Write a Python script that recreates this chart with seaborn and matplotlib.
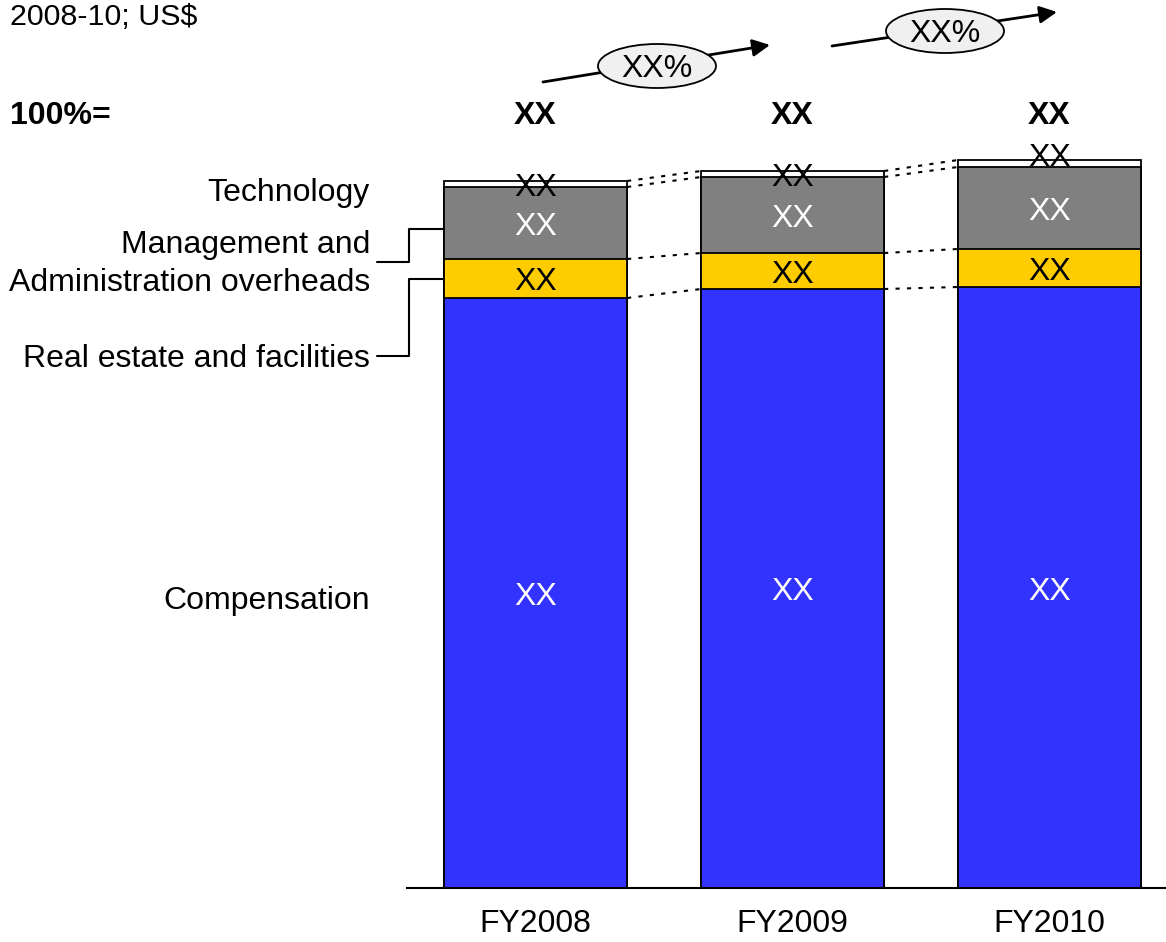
import numpy as np
import matplotlib.pyplot as plt
import seaborn as sns
from matplotlib.patches import Ellipse

# Data (in pixel-height units)
years = ["FY2008", "FY2009", "FY2010"]
compensation = [590, 599, 601]
real_estate = [39, 36, 38]
management = [72, 76, 82]
technology = [6, 6, 7]
total_labels = ["XX", "XX", "XX"]
growth_labels = ["XX%", "XX%"]
segment_names = ["Technology", "Management and\nAdministration overheads",
                 "Real estate and facilities", "Compensation"]

sns.set_style("white")
plt.rcParams["font.family"] = ["Liberation Sans", "DejaVu Sans"]
plt.rcParams["text.color"] = "black"
plt.rcParams["xtick.color"] = "black"
plt.rcParams["xtick.labelcolor"] = "black"

fig = plt.figure(figsize=(11.66, 9.42), dpi=100)
ax = fig.add_axes([407 / 1166, 54 / 942, 759 / 1166, 888 / 942])

# cumulative tops
c1 = np.array(compensation)
c2 = c1 + np.array(real_estate)
c3 = c2 + np.array(management)
c4 = c3 + np.array(technology)

bw = 183 / 257
layers = [(c4, "white"), (c3, "#808080"), (c2, "#FFCC00"), (c1, "#3333FF")]
for vals, col in layers:
    sns.barplot(x=years, y=vals, color=col, saturation=1, width=bw,
                edgecolor="black", linewidth=1.3, ax=ax)

ax.set_xlim(-0.5, 2.453)
ax.set_ylim(0, 888)
ax.set_ylabel("")
ax.set_yticks([])
sns.despine(ax=ax, left=True)
ax.spines["bottom"].set_linewidth(1.5)
ax.spines["bottom"].set_color("black")
ax.tick_params(axis="x", length=0, pad=15, labelsize=23, colors="black")

fs = 23
dy = -4  # nudge labels down a little
# labels inside the bars
tech_offset = [0, 0, 10]
for i in range(3):
    ax.text(i, c1[i] / 2 + dy, "XX", ha="center", va="center", color="white", fontsize=fs)
    ax.text(i, (c1[i] + c2[i]) / 2 + dy, "XX", ha="center", va="center", color="black", fontsize=fs)
    ax.text(i, (c2[i] + c3[i]) / 2 + dy, "XX", ha="center", va="center", color="white", fontsize=fs)
    ax.text(i, (c3[i] + c4[i]) / 2 + tech_offset[i] + dy, "XX", ha="center", va="center",
            color="black", fontsize=fs)
    ax.text(i, 772, total_labels[i], ha="center", va="center", fontsize=fs,
            fontweight="bold", clip_on=False)

# dotted connectors between bars
for i in range(2):
    for tops in (c1, c2, c3, c4):
        ax.plot([i + bw / 2, i + 1 - bw / 2], [tops[i], tops[i + 1]],
                color="black", linestyle=(0, (2, 3.5)), linewidth=1.5)

# overlay in pixel coordinates for annotations
ov = fig.add_axes([0, 0, 1, 1], zorder=3)
ov.set_xlim(0, 1166)
ov.set_ylim(942, 0)
ov.axis("off")
ov.patch.set_alpha(0)

ov.text(10, 25, "2008-10; US$", fontsize=fs * 0.95, va="baseline", ha="left")
ov.text(10, 116, "100%=", fontsize=fs, fontweight="bold", va="center", ha="left")

label_y = [193, 264, 359, 601]
for name, y in zip(segment_names, label_y):
    ov.text(370, y, name, fontsize=fs, ha="right", va="center", linespacing=1.35)

# leader lines
ov.plot([377, 409, 409, 444], [262, 262, 229, 229], color="black", lw=1.5)
ov.plot([377, 409, 409, 444], [356, 356, 279, 279], color="black", lw=1.5)

# growth arrows with ellipses
arrows = [((543, 82), (770, 45), (657, 66)), ((832, 46), (1057, 12), (945, 31))]
for (start, end, centre), lab in zip(arrows, growth_labels):
    ov.annotate("", xy=end, xytext=start,
                arrowprops=dict(arrowstyle="-|>", color="black", lw=2,
                                mutation_scale=26, shrinkA=0, shrinkB=0))
    ov.add_patch(Ellipse(centre, 118, 44, facecolor="#f0f0f0", edgecolor="black",
                         lw=1.3, zorder=4))
    ov.text(centre[0], centre[1] + 3, lab, ha="center", va="center", fontsize=fs, zorder=5)

fig.savefig("out.png", dpi=100)
